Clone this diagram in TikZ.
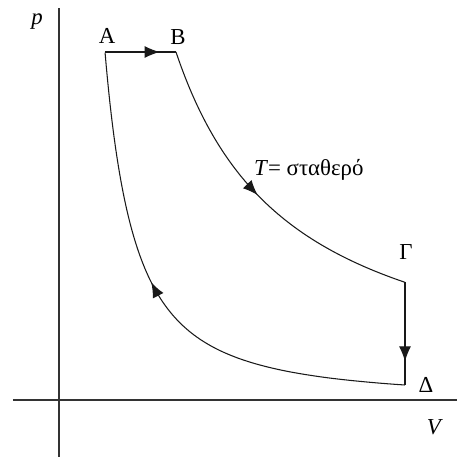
\documentclass[tikz,border=0pt]{standalone}
\usepackage{fontspec}
\setmainfont{Liberation Serif}
\usetikzlibrary{arrows.meta,decorations.markings}
\begin{document}
\begin{tikzpicture}[font=\fontsize{13}{15}\selectfont,>=Latex]
\tikzset{
  axis/.style={draw=black!80,line width=0.6pt},
  cycle/.style={draw=black!90,line width=0.6pt},
  midarrow/.style={postaction={decorate},decoration={markings,mark=at position #1 with {\arrow{Latex[length=3mm,width=2.4mm]}}}},
  lab/.style={inner sep=1pt}
}
\useasboundingbox (-1.18,-1.14) rectangle (7.96,8.00);
\coordinate (ytop) at (0,7.84);
\coordinate (ybot) at (0,-1.14);
\coordinate (xleft) at (-0.92,0);
\coordinate (xright) at (7.96,0);
\coordinate (A) at (0.92,6.96);
\coordinate (B) at (2.34,6.96);
\coordinate (G) at (6.92,2.3535);
\coordinate (D) at (6.92,0.30);
\draw[axis] (ybot) -- (ytop);
\draw[axis,line width=0.9pt] (xleft) -- (xright);
\draw[cycle,midarrow=0.77] (A) -- (B);
\draw[cycle,midarrow=0.49] plot[domain=0.8502:1.9344,samples=60] ({exp(\x)},{16.2864/exp(\x)});
\draw[cycle,midarrow=0.77] (G) -- (D);
\draw[cycle,midarrow=0.55] plot[domain=1.9344:-0.0834,samples=80] ({exp(\x)},{6.96*exp(-1.558*(\x+0.0834))});
\node[lab] (plab) at (-0.44,7.56) {\textit{p}};
\node[lab] (Vlab) at (7.52,-0.54) {\textit{V}};
\node[lab] (Alab) at (0.96,7.28) {A};
\node[lab] (Blab) at (2.38,7.26) {B};
\node[lab] (Glab) at (6.94,2.96) {Γ};
\node[lab] (Dlab) at (7.34,0.30) {Δ};
\node[lab,anchor=base west] (Tlab) at (3.86,4.50) {\textit{T}= σταθερό};
\end{tikzpicture}
\end{document}
